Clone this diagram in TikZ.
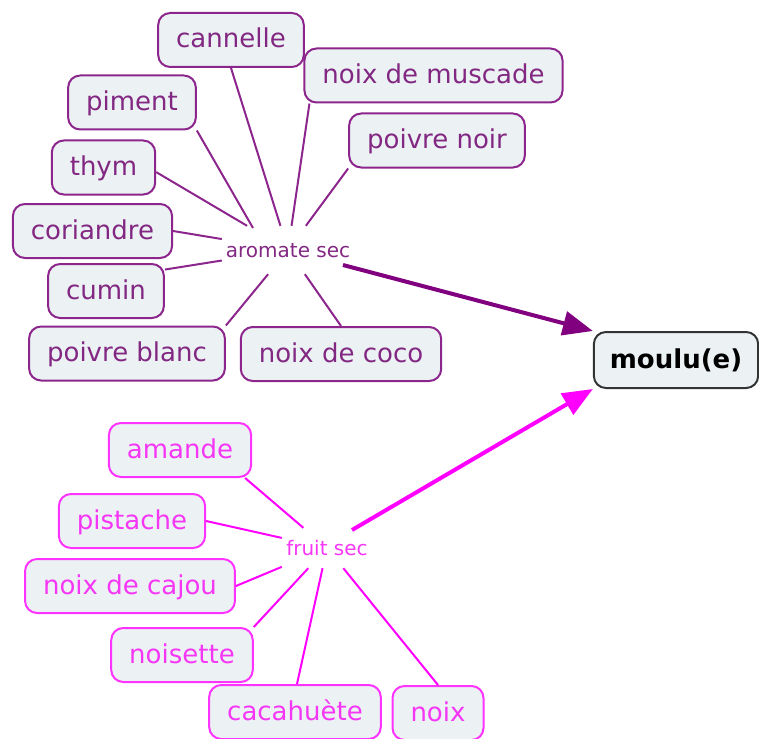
\documentclass[tikz,border=0pt]{standalone}
\usepackage{fontspec}
\setmainfont{DejaVu Sans}
\usetikzlibrary{arrows.meta}
\definecolor{purpB}{HTML}{8C268C}
\definecolor{purpT}{HTML}{822882}
\definecolor{purpA}{HTML}{800080}
\definecolor{magB}{HTML}{FF33FF}
\definecolor{magT}{HTML}{F536F5}
\definecolor{magA}{HTML}{FF00FF}
\definecolor{boxfill}{HTML}{ECF2F4}
\begin{document}
\begin{tikzpicture}[x=1pt,y=-1pt,
  concept/.style={draw, fill=boxfill, rounded corners=12pt, line width=2pt,
    inner xsep=18pt, inner ysep=0pt, minimum height=54pt,
    font=\fontsize{26}{30}\selectfont, text height=21pt, text depth=5pt},
  arombox/.style={concept, draw=purpB, text=purpT},
  fruitbox/.style={concept, draw=magB, text=magT},
  linkp/.style={inner sep=0pt, font=\fontsize{20}{24}\selectfont,
    text height=14pt, text depth=0pt},
  aline/.style={draw=purpB, line width=2pt},
  mline/.style={draw=magA, line width=2pt},
  parrow/.style={draw=purpA, line width=4pt, -{Triangle[length=30pt,width=24pt]}},
  marrow/.style={draw=magA, line width=4pt, -{Triangle[length=30pt,width=24pt]}}
]
\useasboundingbox (0,0) rectangle (759,738);

% aromate sec group
\node[linkp, text=purpT, minimum width=132pt, minimum height=48pt] (as) at (288,250) {aromate sec};
\node[arombox] (cannelle) at (231,40) {cannelle};
\node[arombox] (piment) at (132,102.5) {piment};
\node[arombox] (thym) at (103.5,167.5) {thym};
\node[arombox] (coriandre) at (92.5,231) {coriandre};
\node[arombox] (cumin) at (106,291) {cumin};
\node[arombox] (pblanc) at (127,353.5) {poivre blanc};
\node[arombox] (coco) at (341,354) {noix de coco};
\node[arombox] (muscade) at (433.5,75.5) {noix de muscade};
\node[arombox] (pnoir) at (437,140.5) {poivre noir};

% fruit sec group
\node[linkp, text=magT, minimum width=90pt, minimum height=40pt] (fs) at (327,548) {fruit sec};
\node[fruitbox] (amande) at (180,450) {amande};
\node[fruitbox] (pistache) at (132,521) {pistache};
\node[fruitbox] (cajou) at (130,586) {noix de cajou};
\node[fruitbox] (noisette) at (182,655) {noisette};
\node[fruitbox] (cacahuete) at (295,712) {cacahuète};
\node[fruitbox] (noix) at (438,713) {noix};

% target
\node[concept, draw=black!80, text=black, inner xsep=16pt, minimum height=56pt,
  font=\fontsize{26}{30}\selectfont\bfseries] (moulu) at (676,360) {moulu(e)};

% connectors aromate sec
\draw[aline] (cannelle.south) -- (as);
\draw[aline] (piment.south east) -- ([shift={(-35,-22)}]as.center);
\draw[aline] (thym.-5) -- (as);
\draw[aline] (coriandre.east) -- (as);
\draw[aline] (cumin.20) -- (as);
\draw[aline] (pblanc.north east) -- (as);
\draw[aline] (coco.north) -- (as);
\draw[aline] ([xshift=6pt]muscade.south west) -- (as);
\draw[aline] (pnoir.south west) -- (as);

% connectors fruit sec
\draw[mline] ([xshift=-7pt]amande.south east) -- (fs);
\draw[mline] (pistache.east) -- (fs);
\draw[mline] (cajou.east) -- (fs);
\draw[mline] (noisette.north east) -- (fs);
\draw[mline] ([xshift=2pt]cacahuete.north) -- (fs);
\draw[mline] (noix.north) -- (fs);

% arrows
\draw[parrow] ([shift={(55,15)}]as.center) -- (moulu.north west);
\draw[marrow] ([shift={(25,-18)}]fs.center) -- (moulu.south west);
\end{tikzpicture}
\end{document}
